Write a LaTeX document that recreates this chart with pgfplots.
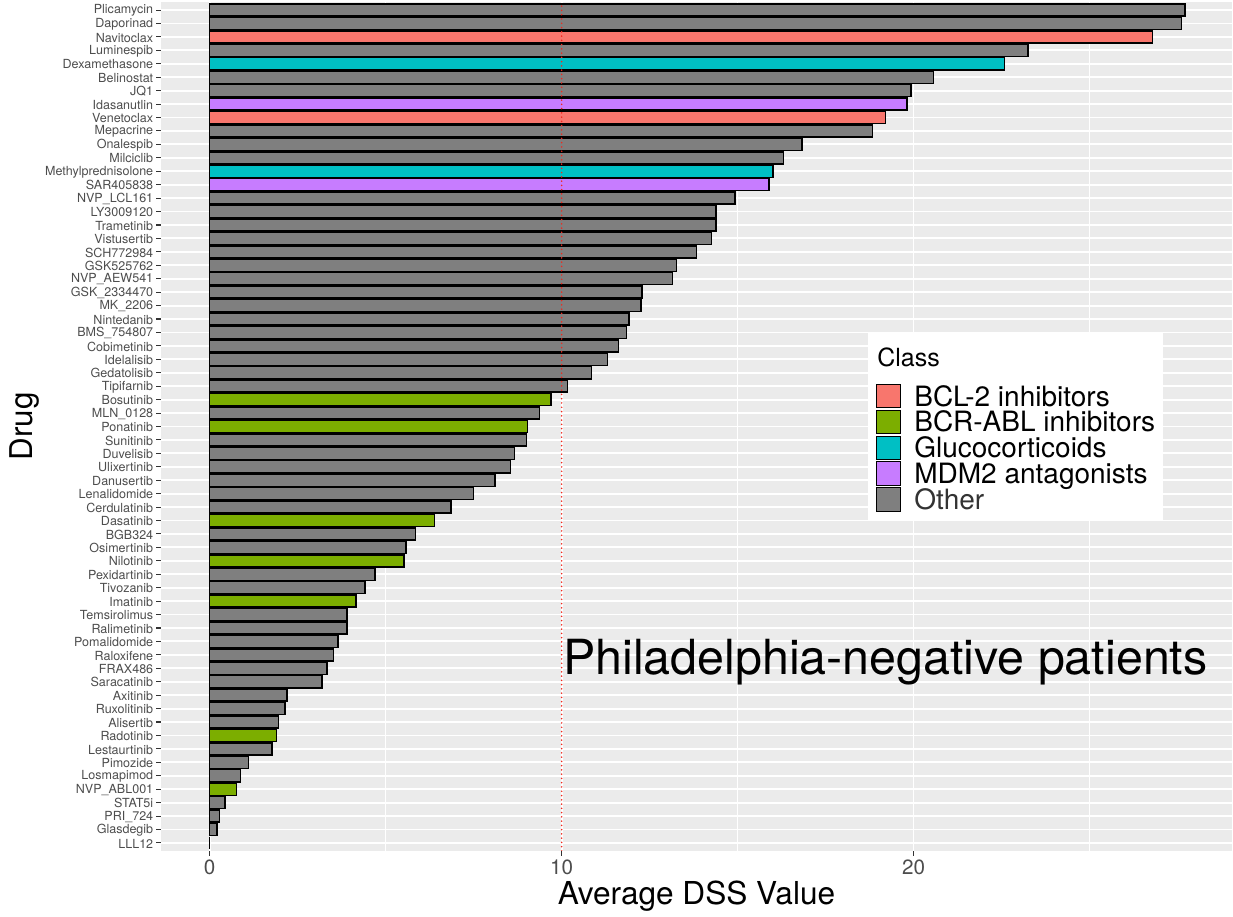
\documentclass[border=0pt]{standalone}
\usepackage{fontspec}
\setmainfont{TeX Gyre Heros}
\usepackage{pgfplots}
\pgfplotsset{compat=1.18}
\definecolor{bgc}{HTML}{EBEBEB}
\definecolor{bcl}{HTML}{F8766D}
\definecolor{bcr}{HTML}{7CAE00}
\definecolor{glu}{HTML}{00BFC4}
\definecolor{mdm}{HTML}{C77CFF}
\definecolor{oth}{HTML}{7F7F7F}
\definecolor{gray30}{HTML}{4D4D4D}
\definecolor{gray20}{HTML}{333333}
\definecolor{vred}{HTML}{F0281E}
\pgfplotsset{mybar/.style={xbar, bar width=0.9, bar shift=0pt, draw=black, line width=1.1pt, fill=#1}}
\begin{document}
\begin{tikzpicture}
\path (-120.75pt,-49.5pt) rectangle (804pt,638.25pt);
\begin{axis}[
  at={(0pt,0pt)}, anchor=south west,
  scale only axis, width=803.25pt, height=636.75pt,
  xmin=-1.385, xmax=29.05, ymin=0.4, ymax=63.6,
  axis background/.style={fill=bgc},
  axis line style={draw=none},
  xtick={0,10,20}, minor xtick={5,15,25},
  ytick={1,...,63},
  yticklabels={LLL12, Glasdegib, PRI\_724, STAT5i, NVP\_ABL001, Losmapimod, Pimozide, Lestaurtinib, Radotinib, Alisertib, Ruxolitinib, Axitinib, Saracatinib, FRAX486, Raloxifene, Pomalidomide, Ralimetinib, Temsirolimus, Imatinib, Tivozanib, Pexidartinib, Nilotinib, Osimertinib, BGB324, Dasatinib, Cerdulatinib, Lenalidomide, Danusertib, Ulixertinib, Duvelisib, Sunitinib, Ponatinib, MLN\_0128, Bosutinib, Tipifarnib, Gedatolisib, Idelalisib, Cobimetinib, BMS\_754807, Nintedanib, MK\_2206, GSK\_2334470, NVP\_AEW541, GSK525762, SCH772984, Vistusertib, Trametinib, LY3009120, NVP\_LCL161, SAR405838, Methylprednisolone, Milciclib, Onalespib, Mepacrine, Venetoclax, Idasanutlin, JQ1, Belinostat, Dexamethasone, Luminespib, Navitoclax, Daporinad, Plicamycin},
  xtick pos=bottom, ytick pos=left,
  tick align=outside, major tick length=3.4pt, minor tick length=0pt,
  tick style={gray20, line width=0.8pt},
  grid=both,
  major grid style={white, line width=1.4pt},
  minor grid style={white, line width=0.8pt},
  /pgf/number format/assume math mode=true,
  xticklabel style={font=\fontsize{15.5}{15.5}\selectfont, text=gray30, inner sep=0pt, anchor=north, yshift=-3.4pt},
  yticklabel style={font=\fontsize{9.4}{9.4}\selectfont, text=gray30, inner sep=0pt, anchor=east, xshift=-2.25pt, yshift=-0.5pt},
  legend style={at={(axis description cs:0.66013,0.61013)}, anchor=north west,
    draw=none, fill=white, inner xsep=6pt, inner ysep=6pt,
    row sep=1.0pt, column sep=10.2pt,
    font=\fontsize{21}{21}\selectfont,
    nodes={inner sep=0pt, text height=16.3pt, text depth=1.3pt}},
  legend cell align=left,
  legend image code/.code={\draw[#1, line width=0.75pt] (0pt,-8.8pt) rectangle (17.6pt,8.8pt);},
]
\addlegendimage{empty legend}
\addlegendentry[font=\fontsize{18.75}{18.75}\selectfont, text height=19pt, text depth=12pt]{\hspace*{-27.8pt}Class}
\addplot[mybar=bcl] coordinates {(26.79,61) (19.21,55)};
\addlegendentry{BCL-2 inhibitors}
\addplot[mybar=bcr] coordinates {(9.70,34) (9.03,32) (6.39,25) (5.52,22) (4.16,19) (1.90,9) (0.76,5)};
\addlegendentry{BCR-ABL inhibitors}
\addplot[mybar=glu] coordinates {(22.58,59) (16.01,51)};
\addlegendentry{Glucocorticoids}
\addplot[mybar=mdm] coordinates {(19.82,56) (15.89,50)};
\addlegendentry{MDM2 antagonists}
\addplot[mybar=oth] coordinates {(0,1) (0.21,2) (0.27,3) (0.43,4) (0.87,6) (1.10,7) (1.77,8) (1.96,10) (2.14,11) (2.20,12) (3.19,13) (3.33,14) (3.52,15) (3.64,16) (3.90,17) (3.90,18) (4.41,20) (4.70,21) (5.58,23) (5.84,24) (6.86,26) (7.50,27) (8.10,28) (8.55,29) (8.66,30) (9.00,31) (9.37,33) (10.17,35) (10.85,36) (11.30,37) (11.62,38) (11.84,39) (11.92,40) (12.25,41) (12.28,42) (13.15,43) (13.26,44) (13.83,45) (14.26,46) (14.38,47) (14.38,48) (14.93,49) (16.31,52) (16.83,53) (18.83,54) (19.93,57) (20.56,58) (23.25,60) (27.61,62) (27.71,63)};
\addlegendentry[text=gray20]{Other}
\addplot[draw=vred, solid, no marks, line width=1.3pt, line cap=round, dash pattern=on 0pt off 3.2pt, forget plot] coordinates {(10,0.4) (10,63.6)};
\end{axis}
\node[anchor=base, font=\fontsize{36.3}{36.3}\selectfont] at (543.3pt,132pt) {Philadelphia-negative patients};
\node[anchor=base, font=\fontsize{23.7}{23.7}\selectfont] at (401.6pt,-40.5pt) {Average DSS Value};
\node[rotate=90, font=\fontsize{23.5}{23.5}\selectfont] at (-102.75pt,318.4pt) {Drug};
\end{tikzpicture}
\end{document}
